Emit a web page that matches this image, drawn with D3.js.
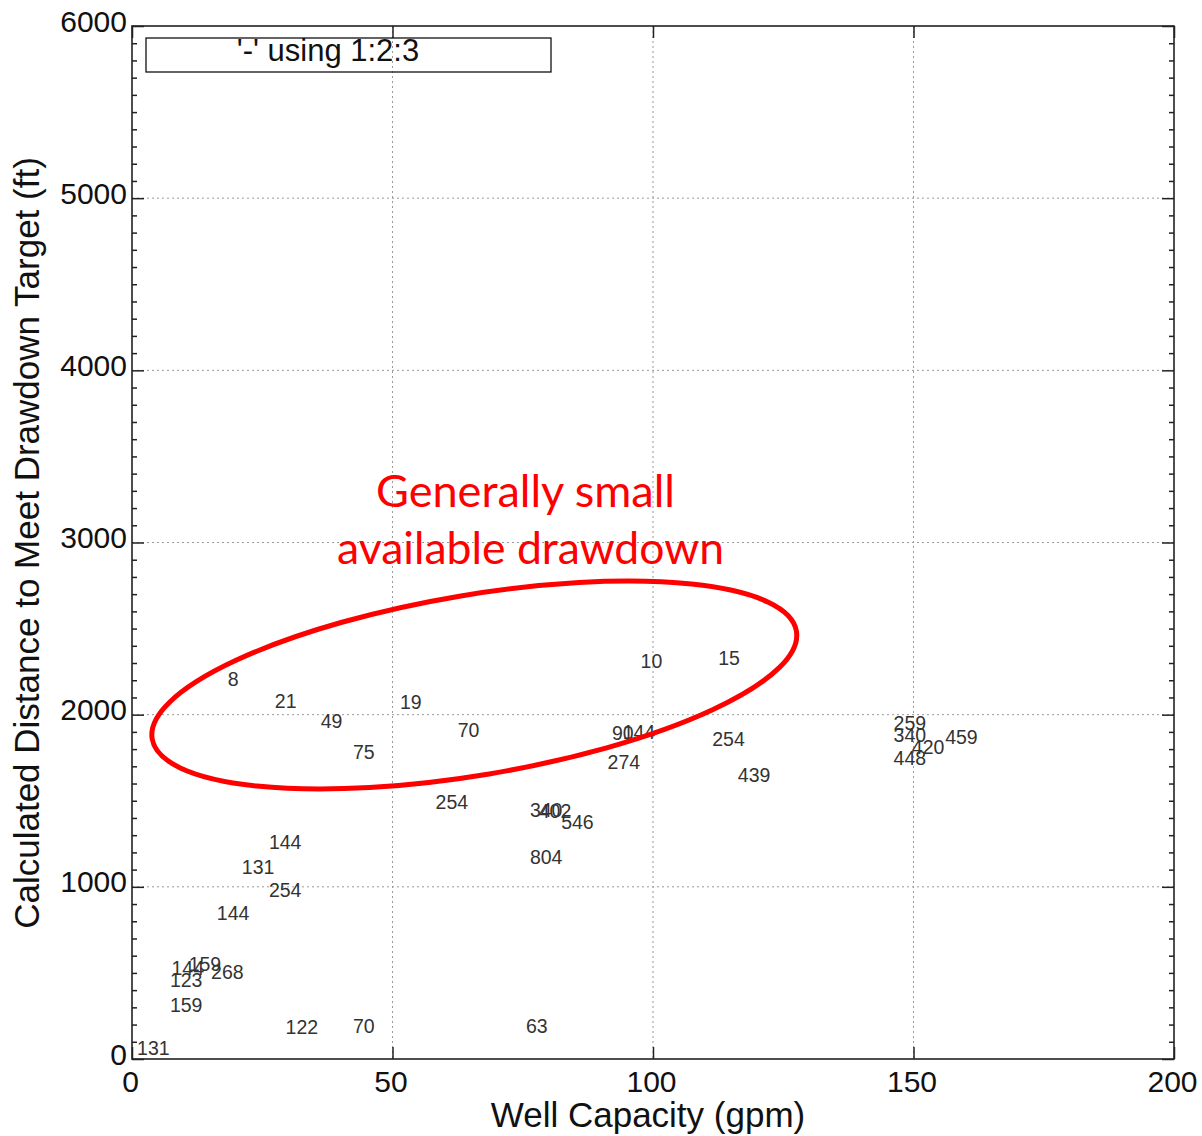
<!DOCTYPE html>
<html><head><meta charset="utf-8">
<script src="https://cdn.jsdelivr.net/npm/d3@7"></script>
<style>html,body{margin:0;padding:0;background:#fff}</style>
</head><body>
<svg id="chart" width="1202" height="1136"></svg>
<script>
// ---- data (gpm, ft, label) ----
const capacity = [19.4, 29.5, 38.3, 53.5, 64.6, 44.5, 61.4, 99.7, 114.6, 94.2, 97.3, 94.4, 114.5, 119.4,
  79.5, 81.2, 85.5, 79.5, 149.3, 149.3, 152.8, 149.3, 159.2, 29.4, 24.2, 29.4, 19.4, 10.7, 14.0, 18.3,
  10.4, 10.4, 32.6, 44.5, 77.7, 4.1];
const distance = [2205, 2079, 1965, 2075, 1911, 1785, 1494, 2314, 2327, 1893, 1899, 1727, 1857, 1650,
  1446, 1440, 1375, 1173, 1950, 1882, 1814, 1747, 1872, 1262, 1117, 981, 850, 527, 552, 507,
  459, 314, 184, 192, 192, 62];
const pointLabels = ["8", "21", "49", "19", "70", "75", "254", "10", "15", "90", "144", "274", "254", "439",
  "340", "402", "546", "804", "259", "340", "420", "448", "459", "144", "131", "254", "144", "144", "159", "268",
  "123", "159", "122", "70", "63", "131"];
const xTicks = [0, 50, 100, 150, 200];
const yTicks = [0, 1000, 2000, 3000, 4000, 5000, 6000];
const yMinorTicks = d3.range(0, 6001, 100).filter(v => v % 1000 !== 0);
const xTitle = "Well Capacity (gpm)";
const yTitle = "Calculated Distance to Meet Drawdown Target (ft)";
const legendText = "'-' using 1:2:3";
const noteLines = ["Generally small", "available drawdown"];
const noteCenter = [65.7, 2172]; // ellipse centre in data units

// ---- layout ----
const L = 132, R = 1174, T = 26, B = 1059;
const svg = d3.select("#chart");
const x = d3.scaleLinear().domain([0, 200]).range([L, R]);
const y = d3.scaleLinear().domain([0, 6000]).range([B, T]);
const font = "'Liberation Sans', Arial, sans-serif";

// grid
const grid = svg.append("g").attr("stroke", "#9a9a9a").attr("stroke-width", 1).attr("stroke-dasharray", "2,3");
grid.selectAll("line.gx").data(xTicks.filter(v => v > 0 && v < 200)).join("line")
  .attr("x1", d => x(d)).attr("x2", d => x(d)).attr("y1", T).attr("y2", B);
grid.selectAll("line.gy").data(yTicks.filter(v => v > 0 && v < 6000)).join("line")
  .attr("y1", d => y(d)).attr("y2", d => y(d)).attr("x1", L).attr("x2", R);

// axes
function style(g) {
  g.select(".domain").remove();
  g.selectAll(".tick line").attr("stroke", "#222").attr("stroke-width", 1.5);
  g.selectAll("text").attr("font-family", font).attr("font-size", 30).attr("fill", "#111");
}
svg.append("g").attr("transform", `translate(0,${B})`)
  .call(d3.axisBottom(x).tickValues(xTicks).tickSize(-12).tickPadding(0).tickFormat(d3.format("d")))
  .call(style)
  .call(g => g.selectAll("text").attr("dy", null).attr("y", 33).attr("x", -2));
svg.append("g").attr("transform", `translate(0,${T})`)
  .call(d3.axisTop(x).tickValues(xTicks).tickSize(-12).tickFormat(""))
  .call(style);
svg.append("g").attr("transform", `translate(${L},0)`)
  .call(d3.axisLeft(y).tickValues(yTicks).tickSize(-12).tickPadding(5).tickFormat(d3.format("d")))
  .call(style)
  .call(g => g.selectAll("text").attr("dy", null).attr("y", 5));
svg.append("g").attr("transform", `translate(${L},0)`)
  .call(d3.axisLeft(y).tickValues(yMinorTicks).tickSize(-5).tickFormat(""))
  .call(style);
svg.append("g").attr("transform", `translate(${R},0)`)
  .call(d3.axisRight(y).tickValues(yTicks).tickSize(-12).tickFormat(""))
  .call(style);
svg.append("g").attr("transform", `translate(${R},0)`)
  .call(d3.axisRight(y).tickValues(yMinorTicks).tickSize(-5).tickFormat(""))
  .call(style);

// frame
svg.append("rect").attr("x", L).attr("y", T).attr("width", R - L).attr("height", B - T)
  .attr("fill", "none").attr("stroke", "#222").attr("stroke-width", 1.6);

// legend
svg.append("rect").attr("x", 146).attr("y", 38).attr("width", 405).attr("height", 34)
  .attr("fill", "none").attr("stroke", "#111").attr("stroke-width", 1.3);
svg.append("text").attr("x", 328).attr("y", 61).attr("text-anchor", "middle")
  .attr("font-family", font).attr("font-size", 31).attr("fill", "#111").text(legendText);

// point labels
svg.append("g").selectAll("text").data(pointLabels).join("text")
  .attr("x", (d, i) => x(capacity[i])).attr("y", (d, i) => y(distance[i]))
  .attr("dy", "0.36em").attr("text-anchor", "middle")
  .attr("font-family", font).attr("font-size", 19.5).attr("fill", "#333").text(d => d);

// axis titles
svg.append("text").attr("x", 648).attr("y", 1127).attr("text-anchor", "middle")
  .attr("font-family", font).attr("font-size", 35).attr("fill", "#111").text(xTitle);
svg.append("text").attr("transform", `translate(39,${543}) rotate(-90)`).attr("text-anchor", "middle")
  .attr("font-family", font).attr("font-size", 35).attr("fill", "#111").text(yTitle);

// annotation ellipse + text
svg.append("ellipse")
  .attr("cx", 0).attr("cy", 0).attr("rx", 326.6).attr("ry", 90.1)
  .attr("transform", `translate(${x(noteCenter[0])},${y(noteCenter[1])}) rotate(-9.5)`)
  .attr("fill", "none").attr("stroke", "#ff0000").attr("stroke-width", 5);
const note = svg.append("g").attr("font-family", "Lato, 'Open Sans', sans-serif").attr("fill", "#ff0000")
  .attr("font-size", 44).attr("text-anchor", "middle");
note.append("text").attr("x", 525.5).attr("y", 507).attr("textLength", 299).attr("lengthAdjust", "spacingAndGlyphs").text(noteLines[0]);
note.append("text").attr("x", 530.5).attr("y", 564).attr("textLength", 387).attr("lengthAdjust", "spacingAndGlyphs").text(noteLines[1]);
</script>
</body></html>
